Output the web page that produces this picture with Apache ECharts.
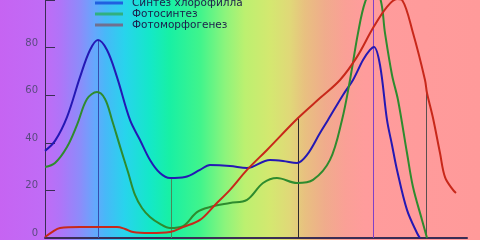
<!DOCTYPE html>
<html><head><meta charset="utf-8">
<script src="https://cdn.jsdelivr.net/npm/echarts@6/dist/echarts.min.js"></script>
<style>html,body{margin:0;padding:0;}#c{width:480px;height:240px;}</style>
</head><body><div id="c"></div>
<script>
// wavelength (nm) / relative value (%) pairs
const seriesNames = ['Синтез хлорофилла', 'Фотосинтез', 'Фотоморфогенез'];
const chlorophyll = [[400,36.6],[408,40.8],[417.6,50.8],[428,67.6],[436,79.0],[442.4,83.2],[449.6,79.0],[457.6,67.6],[468,49.6],[476,41.2],[484,32.8],[492,27.3],[500,25.2],[512,25.6],[524,28.6],[532,30.7],[548,30.3],[561.6,29.4],[580,32.8],[590.4,32.4],[601.6,31.5],[609.6,34.9],[620,44.1],[626.4,49.6],[638.4,60.1],[646.4,66.4],[654.4,74.8],[660,79.0],[663.2,80.3],[668,72.7],[673.6,49.6],[677.6,39.1],[681.6,28.6],[689.6,11.8],[697.6,2.1],[700,0]];
const photosynthesis = [[400,29.8],[408,31.5],[417.6,38.2],[425.6,47.5],[433.6,58.4],[441.6,61.3],[448,58.4],[453.6,49.6],[460,38.5],[466.4,27.7],[472,18.1],[477.6,12.6],[484,8.8],[492,5.9],[500,4.2],[510.4,5.0],[521.6,10.9],[532,13.0],[548,14.7],[561.6,16.0],[574.4,23.1],[585.6,25.2],[601.6,23.1],[614.4,24.4],[628,32.8],[637.6,49.6],[644,66.4],[650.4,86.1],[656,99.0],[661.6,103.5],[668,101.0],[672,86.1],[677.6,68.5],[682.4,58.0],[689.6,35.7],[694.4,21.4],[701.6,7.6],[705.6,0]];
const photomorphogenesis = [[400,0.4],[405.6,2.5],[412,4.2],[428,4.6],[444,4.6],[457.6,4.6],[464,3.8],[470.4,2.5],[484,2.1],[500,2.5],[510.4,4.6],[524,7.6],[536,13.9],[548,20.2],[561.6,28.6],[577.6,37.0],[602.4,50.4],[620,58.8],[636,66.4],[649.6,76.1],[662.4,88.2],[673.6,97.1],[681.6,100.4],[685.6,100],[694.4,86.1],[704,66.4],[705.6,60.9],[710.4,50.4],[716,35.7],[720,25.6],[726.4,20.2],[728.8,18.9]];
// vertical drop lines: wavelength and top value
const dropX = [442.4, 500.8, 602.4, 662.4, 704.8];
const dropTop = [83.2, 25.0, 50.4, 100, 62.0];
const yTicks = [0, 20, 40, 60, 80, 100];

const dropColors = ['#3a4cb0', '#4a8a58', '#2e2a2a', '#8040c8', '#5a5050'];
const lineColors = ['#2418b4', '#2e8b2e', '#c8281a'];
const legendColors = ['#2060e0', '#30b080', '#707090'];

const chart = echarts.init(document.getElementById('c'), null, {renderer: 'canvas'});
const stops = [
  [0, '#c664f2'], [0.094, '#c06cf6'], [0.125, '#b074f8'], [0.167, '#8c8cfa'],
  [0.198, '#64a8fc'], [0.219, '#48b8f8'], [0.26, '#28d4ec'], [0.3125, '#14e8c8'],
  [0.354, '#18f0a4'], [0.417, '#40f48c'], [0.469, '#8cf47c'], [0.51, '#bcf070'],
  [0.5625, '#d4e870'], [0.604, '#e0d878'], [0.635, '#e8c080'], [0.677, '#f0ac8c'],
  [0.719, '#faa096'], [0.76, '#ff9c9c'], [1, '#ff9a9a']
].map(s => ({offset: s[0], color: s[1]}));

const dataSets = [chlorophyll, photosynthesis, photomorphogenesis];
const option = {
  animation: false,
  graphic: [{
    type: 'rect', z: -100, silent: true,
    shape: {x: 0, y: 0, width: 480, height: 240},
    style: {fill: new echarts.graphic.LinearGradient(0, 0, 1, 0, stops)}
  }],
  grid: {left: 45, right: 13, top: 0, bottom: 2, containLabel: false, outerBoundsMode: 'none'},
  legend: {
    orient: 'vertical', left: 95, top: -2.5, padding: 0, itemGap: 0,
    icon: 'rect', itemWidth: 28, itemHeight: 3,
    textStyle: {fontFamily: 'DejaVu Sans', fontSize: 10.5, lineHeight: 11, color: '#1c1c4a', padding: [0, 0, 0, 4]},
    data: seriesNames.map((n, i) => ({name: n, itemStyle: {color: legendColors[i]}}))
  },
  xAxis: {
    type: 'value', min: 400, max: 737.6,
    axisLine: {show: true, onZero: false, lineStyle: {color: '#3a2d55', width: 2}},
    axisTick: {show: false}, axisLabel: {show: false}, splitLine: {show: false}
  },
  yAxis: {
    type: 'value', min: yTicks[0], max: yTicks[yTicks.length - 1], interval: 20,
    axisLine: {show: true, lineStyle: {color: '#3a2d55', width: 1}},
    axisTick: {show: true, inside: true, length: 10, lineStyle: {color: '#3a2d55'}},
    axisLabel: {color: '#5a4a80', fontFamily: 'DejaVu Sans', fontSize: 10, margin: 7, verticalAlign: 'bottom', lineHeight: 9},
    splitLine: {show: false}
  },
  series: [
    {
      type: 'lines', coordinateSystem: 'cartesian2d', z: 1, silent: true,
      data: dropX.map((x, i) => ({coords: [[x, dropTop[i]], [x, 0]], lineStyle: {color: dropColors[i], width: 1, opacity: 1}}))
    }
  ].concat(dataSets.map((d, i) => ({
    name: seriesNames[i], type: 'line', data: d, smooth: 0.35, showSymbol: false, symbol: 'none',
    lineStyle: {color: lineColors[i], width: 2}, itemStyle: {color: lineColors[i]}, z: 3
  })))
};
chart.setOption(option);
</script></body></html>
